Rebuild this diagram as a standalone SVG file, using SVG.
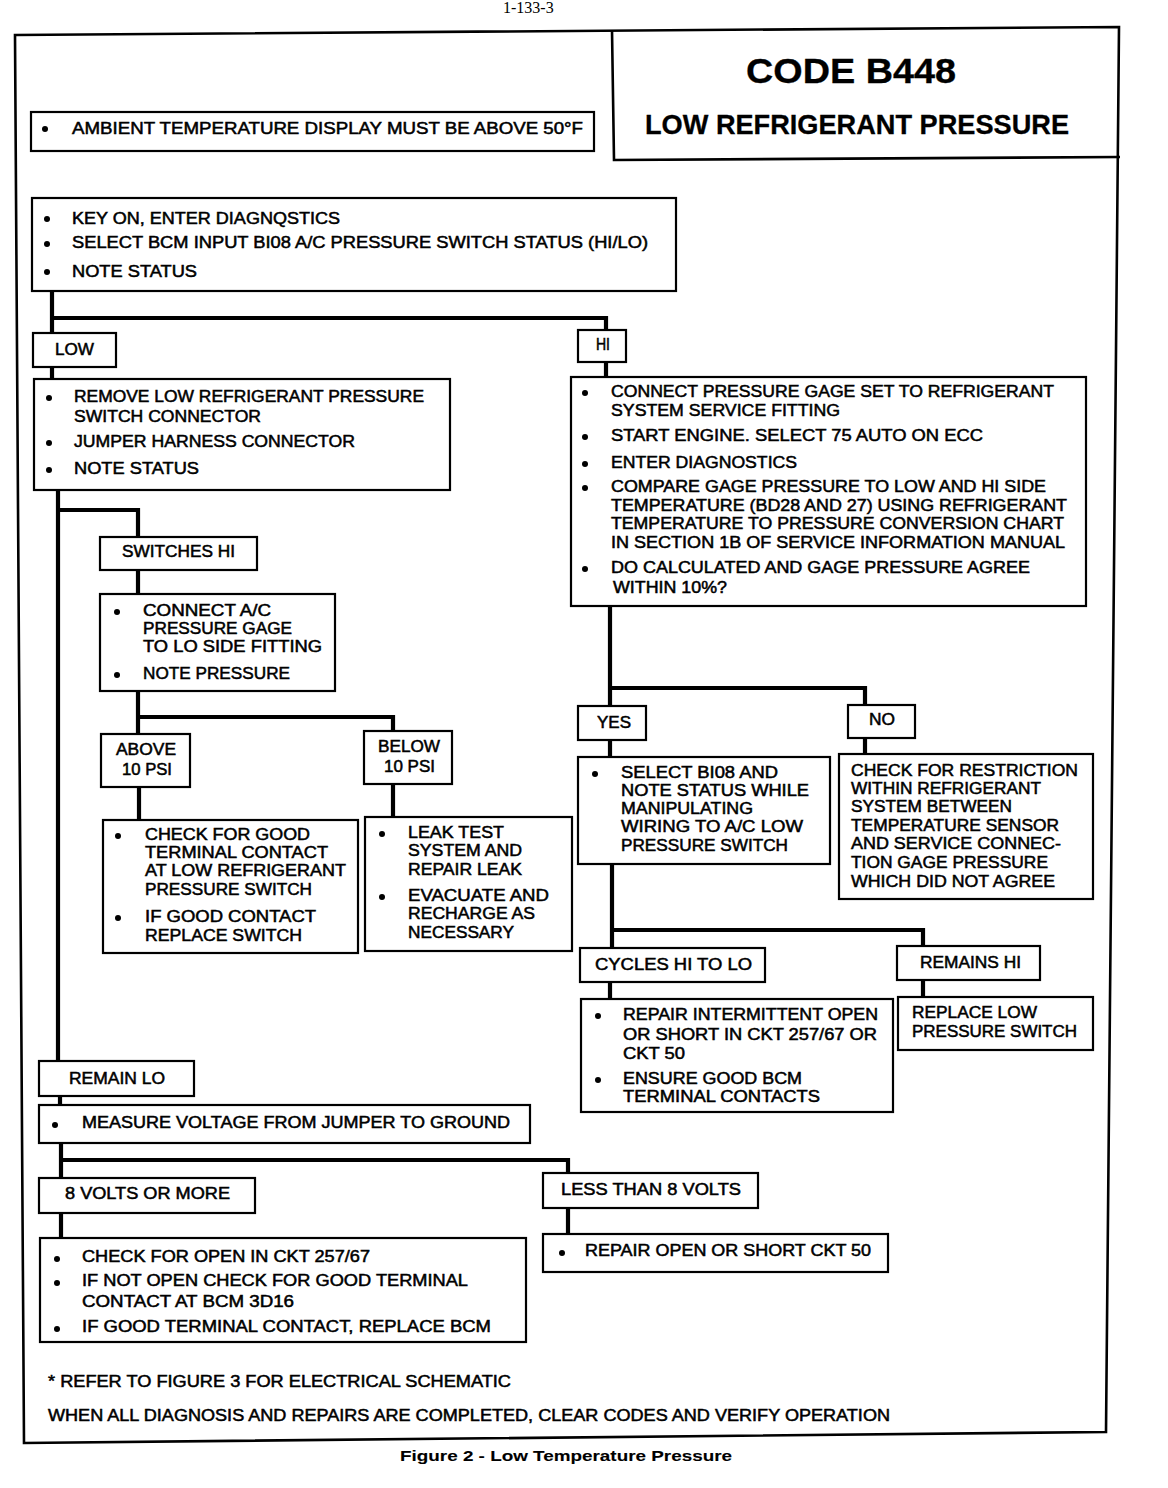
<svg xmlns="http://www.w3.org/2000/svg" width="1168" height="1488" viewBox="0 0 1168 1488">
<style>
.bx{fill:#fff;stroke:#000;stroke-width:2.2}
.fr{fill:none;stroke:#000;stroke-width:2.6}
.cn{fill:none;stroke:#000;stroke-width:4.2;stroke-linejoin:miter}
text{font-family:"Liberation Sans",Arial,Helvetica,sans-serif;font-size:16px;fill:#000;stroke:#000;stroke-width:0.5}
.t1{font-weight:bold;font-size:35px;stroke-width:0.3}
.t2{font-weight:bold;font-size:28px;stroke-width:0.3}
.cap{font-weight:bold;font-size:15px;stroke-width:0.1}
.pg{font-family:"Liberation Serif","Times New Roman",serif;font-size:16px;stroke-width:0}
circle{fill:#000}
</style>
<rect x="0" y="0" width="1168" height="1488" fill="#fff"/>
<text class="pg" x="503" y="13">1-133-3</text>
<polygon class="fr" points="15,35 1119,27 1106,1432 24,1443"/>
<g id="title">
<polyline class="fr" points="612,30 614,160 1120,157"/>
<text class="t1" x="746" y="83" textLength="210" lengthAdjust="spacingAndGlyphs">CODE  B448</text>
<text class="t2" x="645" y="134" textLength="424" lengthAdjust="spacingAndGlyphs">LOW REFRIGERANT PRESSURE</text>
</g>
<g id="connectors">
<path class="cn" d="M52,291 V333 M52,318 H606 V330"/>
<path class="cn" d="M52,367 V379"/>
<path class="cn" d="M606,362 V377"/>
<path class="cn" d="M58,490 V1061 M58,510 H138 V537"/>
<path class="cn" d="M138,570 V594"/>
<path class="cn" d="M138,691 V734 M138,717 H393 V731"/>
<path class="cn" d="M139,787 V820"/>
<path class="cn" d="M393,784 V817"/>
<path class="cn" d="M610,606 V706 M610,688 H865 V705"/>
<path class="cn" d="M610,740 V757"/>
<path class="cn" d="M865,738 V754"/>
<path class="cn" d="M612,864 V948 M612,930 H923 V946"/>
<path class="cn" d="M610,982 V999"/>
<path class="cn" d="M923,980 V997"/>
<path class="cn" d="M60,1096 V1105"/>
<path class="cn" d="M61,1143 V1178 M61,1160 H568 V1173"/>
<path class="cn" d="M61,1213 V1238"/>
<path class="cn" d="M568,1208 V1234"/>
</g>
<g id="ambient">
<rect class="bx" x="31" y="112" width="563" height="39"/>
<circle cx="45" cy="129" r="3"/>
<text x="72" y="134" textLength="511" lengthAdjust="spacingAndGlyphs">AMBIENT TEMPERATURE DISPLAY MUST BE ABOVE 50°F</text>
</g>
<g id="start">
<rect class="bx" x="32" y="198" width="644" height="93"/>
<circle cx="47" cy="219" r="3"/><circle cx="47" cy="244" r="3"/><circle cx="47" cy="272" r="3"/>
<text x="72" y="224" textLength="268" lengthAdjust="spacingAndGlyphs">KEY ON, ENTER DIAGNQSTICS</text>
<text x="72" y="248" textLength="576" lengthAdjust="spacingAndGlyphs">SELECT BCM INPUT BI08 A/C PRESSURE SWITCH STATUS (HI/LO)</text>
<text x="72" y="277" textLength="125" lengthAdjust="spacingAndGlyphs">NOTE STATUS</text>
</g>
<g id="low">
<rect class="bx" x="33" y="333" width="83" height="34"/>
<text x="55" y="355" textLength="39" lengthAdjust="spacingAndGlyphs">LOW</text>
</g>
<g id="hi">
<rect class="bx" x="578" y="330" width="48" height="32"/>
<text x="596" y="350" textLength="14" lengthAdjust="spacingAndGlyphs">HI</text>
</g>
<g id="lowdetail">
<rect class="bx" x="34" y="379" width="416" height="111"/>
<circle cx="49" cy="398" r="3"/><circle cx="49" cy="443" r="3"/><circle cx="49" cy="470" r="3"/>
<text x="74" y="402" textLength="350" lengthAdjust="spacingAndGlyphs">REMOVE LOW REFRIGERANT PRESSURE</text>
<text x="74" y="422" textLength="187" lengthAdjust="spacingAndGlyphs">SWITCH CONNECTOR</text>
<text x="74" y="447" textLength="281" lengthAdjust="spacingAndGlyphs">JUMPER HARNESS CONNECTOR</text>
<text x="74" y="474" textLength="125" lengthAdjust="spacingAndGlyphs">NOTE STATUS</text>
</g>
<g id="hidetail">
<rect class="bx" x="571" y="377" width="515" height="229"/>
<circle cx="585" cy="393" r="3"/><circle cx="585" cy="437" r="3"/><circle cx="585" cy="464" r="3"/><circle cx="585" cy="488" r="3"/><circle cx="585" cy="569" r="3"/>
<text x="611" y="397" textLength="443" lengthAdjust="spacingAndGlyphs">CONNECT PRESSURE GAGE SET TO REFRIGERANT</text>
<text x="611" y="416" textLength="229" lengthAdjust="spacingAndGlyphs">SYSTEM SERVICE FITTING</text>
<text x="611" y="441" textLength="372" lengthAdjust="spacingAndGlyphs">START ENGINE. SELECT 75 AUTO ON ECC</text>
<text x="611" y="468" textLength="186" lengthAdjust="spacingAndGlyphs">ENTER DIAGNOSTICS</text>
<text x="611" y="492" textLength="435" lengthAdjust="spacingAndGlyphs">COMPARE GAGE PRESSURE TO LOW AND HI SIDE</text>
<text x="611" y="511" textLength="456" lengthAdjust="spacingAndGlyphs">TEMPERATURE (BD28 AND 27) USING REFRIGERANT</text>
<text x="611" y="529" textLength="453" lengthAdjust="spacingAndGlyphs">TEMPERATURE TO PRESSURE CONVERSION CHART</text>
<text x="611" y="548" textLength="454" lengthAdjust="spacingAndGlyphs">IN SECTION 1B OF SERVICE INFORMATION MANUAL</text>
<text x="611" y="573" textLength="419" lengthAdjust="spacingAndGlyphs">DO CALCULATED AND GAGE PRESSURE AGREE</text>
<text x="613" y="593" textLength="114" lengthAdjust="spacingAndGlyphs">WITHIN 10%?</text>
</g>
<g id="switcheshi">
<rect class="bx" x="100" y="537" width="157" height="33"/>
<text x="122" y="557" textLength="113" lengthAdjust="spacingAndGlyphs">SWITCHES HI</text>
</g>
<g id="connectgage">
<rect class="bx" x="100" y="594" width="235" height="97"/>
<circle cx="117" cy="612" r="3"/><circle cx="117" cy="675" r="3"/>
<text x="143" y="616" textLength="128" lengthAdjust="spacingAndGlyphs">CONNECT A/C</text>
<text x="143" y="634" textLength="149" lengthAdjust="spacingAndGlyphs">PRESSURE GAGE</text>
<text x="143" y="652" textLength="179" lengthAdjust="spacingAndGlyphs">TO LO SIDE FITTING</text>
<text x="143" y="679" textLength="147" lengthAdjust="spacingAndGlyphs">NOTE PRESSURE</text>
</g>
<g id="above">
<rect class="bx" x="101" y="734" width="89" height="53"/>
<text x="116" y="755" textLength="60" lengthAdjust="spacingAndGlyphs">ABOVE</text>
<text x="122" y="775" textLength="50" lengthAdjust="spacingAndGlyphs">10 PSI</text>
</g>
<g id="below">
<rect class="bx" x="364" y="731" width="88" height="53"/>
<text x="378" y="752" textLength="62" lengthAdjust="spacingAndGlyphs">BELOW</text>
<text x="384" y="772" textLength="51" lengthAdjust="spacingAndGlyphs">10 PSI</text>
</g>
<g id="checkgood">
<rect class="bx" x="103" y="820" width="255" height="133"/>
<circle cx="118" cy="836" r="3"/><circle cx="118" cy="918" r="3"/>
<text x="145" y="840" textLength="165" lengthAdjust="spacingAndGlyphs">CHECK FOR GOOD</text>
<text x="145" y="858" textLength="183" lengthAdjust="spacingAndGlyphs">TERMINAL CONTACT</text>
<text x="145" y="876" textLength="201" lengthAdjust="spacingAndGlyphs">AT LOW REFRIGERANT</text>
<text x="145" y="895" textLength="167" lengthAdjust="spacingAndGlyphs">PRESSURE SWITCH</text>
<text x="145" y="922" textLength="171" lengthAdjust="spacingAndGlyphs">IF GOOD CONTACT</text>
<text x="145" y="941" textLength="157" lengthAdjust="spacingAndGlyphs">REPLACE SWITCH</text>
</g>
<g id="leaktest">
<rect class="bx" x="365" y="817" width="207" height="134"/>
<circle cx="382" cy="834" r="3"/><circle cx="382" cy="897" r="3"/>
<text x="408" y="838" textLength="96" lengthAdjust="spacingAndGlyphs">LEAK TEST</text>
<text x="408" y="856" textLength="114" lengthAdjust="spacingAndGlyphs">SYSTEM AND</text>
<text x="408" y="875" textLength="114" lengthAdjust="spacingAndGlyphs">REPAIR LEAK</text>
<text x="408" y="901" textLength="141" lengthAdjust="spacingAndGlyphs">EVACUATE AND</text>
<text x="408" y="919" textLength="127" lengthAdjust="spacingAndGlyphs">RECHARGE AS</text>
<text x="408" y="938" textLength="106" lengthAdjust="spacingAndGlyphs">NECESSARY</text>
</g>
<g id="yes">
<rect class="bx" x="578" y="706" width="68" height="34"/>
<text x="597" y="728" textLength="34" lengthAdjust="spacingAndGlyphs">YES</text>
</g>
<g id="no">
<rect class="bx" x="848" y="705" width="67" height="33"/>
<text x="869" y="725" textLength="26" lengthAdjust="spacingAndGlyphs">NO</text>
</g>
<g id="selectbi08">
<rect class="bx" x="578" y="757" width="252" height="107"/>
<circle cx="595" cy="774" r="3"/>
<text x="621" y="778" textLength="157" lengthAdjust="spacingAndGlyphs">SELECT BI08 AND</text>
<text x="621" y="796" textLength="188" lengthAdjust="spacingAndGlyphs">NOTE STATUS WHILE</text>
<text x="621" y="814" textLength="132" lengthAdjust="spacingAndGlyphs">MANIPULATING</text>
<text x="621" y="832" textLength="182" lengthAdjust="spacingAndGlyphs">WIRING TO A/C LOW</text>
<text x="621" y="851" textLength="167" lengthAdjust="spacingAndGlyphs">PRESSURE SWITCH</text>
</g>
<g id="restriction">
<rect class="bx" x="839" y="754" width="254" height="145"/>
<text x="851" y="776" textLength="227" lengthAdjust="spacingAndGlyphs">CHECK FOR RESTRICTION</text>
<text x="851" y="794" textLength="190" lengthAdjust="spacingAndGlyphs">WITHIN REFRIGERANT</text>
<text x="851" y="812" textLength="161" lengthAdjust="spacingAndGlyphs">SYSTEM BETWEEN</text>
<text x="851" y="831" textLength="208" lengthAdjust="spacingAndGlyphs">TEMPERATURE SENSOR</text>
<text x="851" y="849" textLength="210" lengthAdjust="spacingAndGlyphs">AND SERVICE CONNEC-</text>
<text x="851" y="868" textLength="197" lengthAdjust="spacingAndGlyphs">TION GAGE PRESSURE</text>
<text x="851" y="887" textLength="204" lengthAdjust="spacingAndGlyphs">WHICH DID NOT AGREE</text>
</g>
<g id="cycles">
<rect class="bx" x="580" y="948" width="185" height="34"/>
<text x="595" y="970" textLength="157" lengthAdjust="spacingAndGlyphs">CYCLES HI TO LO</text>
</g>
<g id="remainshi">
<rect class="bx" x="897" y="946" width="143" height="34"/>
<text x="920" y="968" textLength="101" lengthAdjust="spacingAndGlyphs">REMAINS HI</text>
</g>
<g id="repairintermittent">
<rect class="bx" x="581" y="999" width="312" height="113"/>
<circle cx="598" cy="1016" r="3"/><circle cx="598" cy="1080" r="3"/>
<text x="623" y="1020" textLength="255" lengthAdjust="spacingAndGlyphs">REPAIR INTERMITTENT OPEN</text>
<text x="623" y="1040" textLength="254" lengthAdjust="spacingAndGlyphs">OR SHORT IN CKT 257/67 OR</text>
<text x="623" y="1059" textLength="62" lengthAdjust="spacingAndGlyphs">CKT 50</text>
<text x="623" y="1084" textLength="179" lengthAdjust="spacingAndGlyphs">ENSURE GOOD BCM</text>
<text x="623" y="1102" textLength="197" lengthAdjust="spacingAndGlyphs">TERMINAL CONTACTS</text>
</g>
<g id="replacelow">
<rect class="bx" x="898" y="997" width="195" height="53"/>
<text x="912" y="1018" textLength="125" lengthAdjust="spacingAndGlyphs">REPLACE LOW</text>
<text x="912" y="1037" textLength="165" lengthAdjust="spacingAndGlyphs">PRESSURE SWITCH</text>
</g>
<g id="remainlo">
<rect class="bx" x="39" y="1061" width="155" height="35"/>
<text x="69" y="1084" textLength="96" lengthAdjust="spacingAndGlyphs">REMAIN LO</text>
</g>
<g id="measure">
<rect class="bx" x="39" y="1105" width="491" height="38"/>
<circle cx="55" cy="1125" r="3"/>
<text x="82" y="1128" textLength="428" lengthAdjust="spacingAndGlyphs">MEASURE VOLTAGE FROM JUMPER TO GROUND</text>
</g>
<g id="eightvolts">
<rect class="bx" x="39" y="1178" width="216" height="35"/>
<text x="65" y="1199" textLength="165" lengthAdjust="spacingAndGlyphs">8 VOLTS OR MORE</text>
</g>
<g id="lessthan">
<rect class="bx" x="543" y="1173" width="215" height="35"/>
<text x="561" y="1195" textLength="180" lengthAdjust="spacingAndGlyphs">LESS THAN 8 VOLTS</text>
</g>
<g id="checkopen">
<rect class="bx" x="40" y="1238" width="486" height="104"/>
<circle cx="57" cy="1259" r="3"/><circle cx="57" cy="1283" r="3"/><circle cx="57" cy="1329" r="3"/>
<text x="82" y="1262" textLength="288" lengthAdjust="spacingAndGlyphs">CHECK FOR OPEN IN CKT 257/67</text>
<text x="82" y="1286" textLength="386" lengthAdjust="spacingAndGlyphs">IF NOT OPEN CHECK FOR GOOD TERMINAL</text>
<text x="82" y="1307" textLength="212" lengthAdjust="spacingAndGlyphs">CONTACT AT BCM 3D16</text>
<text x="82" y="1332" textLength="409" lengthAdjust="spacingAndGlyphs">IF GOOD TERMINAL CONTACT, REPLACE BCM</text>
</g>
<g id="repairopen">
<rect class="bx" x="543" y="1234" width="345" height="38"/>
<circle cx="562" cy="1253" r="3"/>
<text x="585" y="1256" textLength="286" lengthAdjust="spacingAndGlyphs">REPAIR OPEN OR SHORT CKT 50</text>
</g>
<g id="notes">
<text x="48" y="1387" textLength="463" lengthAdjust="spacingAndGlyphs">* REFER TO FIGURE 3 FOR ELECTRICAL SCHEMATIC</text>
<text x="48" y="1421" textLength="842" lengthAdjust="spacingAndGlyphs">WHEN ALL DIAGNOSIS AND REPAIRS ARE COMPLETED, CLEAR CODES AND VERIFY OPERATION</text>
<text class="cap" x="400" y="1461" textLength="332" lengthAdjust="spacingAndGlyphs">Figure  2  -  Low Temperature Pressure</text>
</g>
</svg>
